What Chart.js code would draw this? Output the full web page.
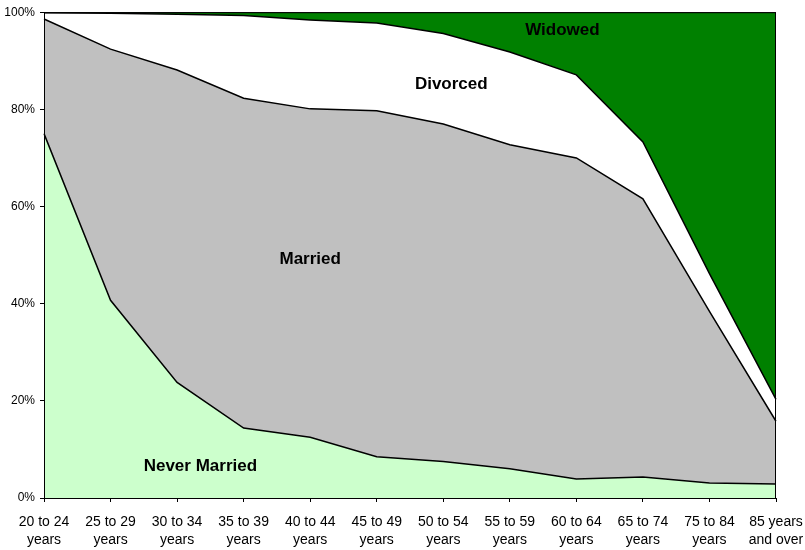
<!DOCTYPE html>
<html>
<head>
<meta charset="utf-8">
<script src="https://cdn.jsdelivr.net/npm/chart.js@4/dist/chart.umd.min.js"></script>
<style>
  html, body { margin: 0; padding: 0; background: #fff; }
  #wrap { width: 805px; height: 550px; }
</style>
</head>
<body>
<div id="wrap"><canvas id="chart" width="805" height="550"></canvas></div>
<script>
// age groups (two-line labels)
var categories = [
    ["20 to 24", "years"], ["25 to 29", "years"], ["30 to 34", "years"],
    ["35 to 39", "years"], ["40 to 44", "years"], ["45 to 49", "years"],
    ["50 to 54", "years"], ["55 to 59", "years"], ["60 to 64", "years"],
    ["65 to 74", "years"], ["75 to 84", "years"], ["85 years", "and over"]
];

// percent of each age group
var neverMarried = [75.0, 40.7, 23.8, 14.4, 12.5, 8.5, 7.5, 6.0, 3.9, 4.3, 3.1, 2.9];
var married      = [23.6, 51.7, 64.3, 67.9, 67.6, 71.2, 69.5, 66.7, 66.1, 57.3, 35.3, 12.9];
var divorced     = [1.3, 7.4, 11.5, 17.0, 18.3, 18.1, 18.6, 19.1, 17.1, 11.7, 7.8, 4.5];
var widowed      = [0.1, 0.2, 0.4, 0.7, 1.6, 2.2, 4.4, 8.2, 12.9, 26.7, 53.8, 79.7];

var yTicks = [0, 20, 40, 60, 80, 100];

// in-chart area names: [text, category position, percent]
var areaLabels = [
    ["Widowed", 7.79, 96.3],
    ["Divorced", 6.12, 85.2],
    ["Married", 4.0, 49.1],
    ["Never Married", 2.35, 6.6]
];

var areaLabelPlugin = {
    id: 'areaLabels',
    afterDatasetsDraw: function(chart) {
        var ctx = chart.ctx;
        var xs = chart.scales.x, ys = chart.scales.y;
        var a = chart.chartArea;
        ctx.save();
        // plot frame
        ctx.strokeStyle = "#000";
        ctx.lineWidth = 1;
        ctx.strokeRect(a.left + 0.5, a.top + 0.5, a.right - a.left - 1, a.bottom - a.top);
        ctx.fillStyle = "#000";
        ctx.font = "bold 17px 'Liberation Sans', Arial, sans-serif";
        ctx.textAlign = "center";
        ctx.textBaseline = "middle";
        areaLabels.forEach(function(l) {
            ctx.fillText(l[0], xs.getPixelForValue(l[1]), ys.getPixelForValue(l[2]));
        });
        ctx.restore();
    }
};

function series(label, data, color, fill) {
    return {
        label: label,
        data: data,
        backgroundColor: color,
        borderColor: "#000",
        borderWidth: 1.5,
        pointRadius: 0,
        tension: 0,
        fill: fill
    };
}

var ctx = document.getElementById("chart").getContext("2d");
new Chart(ctx, {
    type: 'line',
    data: {
        labels: categories,
        datasets: [
            series("Never Married", neverMarried, "#CCFFCC", 'origin'),
            series("Married", married, "#C0C0C0", '-1'),
            series("Divorced", divorced, "#FFFFFF", '-1'),
            series("Widowed", widowed, "#008000", '-1')
        ]
    },
    options: {
        responsive: false,
        animation: false,
        layout: { padding: { top: 11, right: 29, left: 0, bottom: 0 } },
        plugins: {
            legend: { display: false },
            tooltip: { enabled: false }
        },
        scales: {
            x: {
                offset: false,
                grid: { display: true, drawOnChartArea: false, tickLength: 4, color: "#000" },
                border: { color: "#000", width: 1 },
                ticks: {
                    autoSkip: false, maxRotation: 0, minRotation: 0, padding: 11,
                    color: "#000",
                    font: { family: "'Liberation Sans', Arial, sans-serif", size: 14, lineHeight: 1.28 }
                },
                afterFit: function(scale) {
                    scale.height = 52;
                    scale.paddingLeft = 0;
                    scale.paddingRight = 0;
                }
            },
            y: {
                stacked: true,
                min: 0,
                max: 100,
                grid: { display: true, drawOnChartArea: false, tickLength: 4, color: "#000" },
                border: { color: "#000", width: 1 },
                afterBuildTicks: function(scale) {
                    scale.ticks = yTicks.map(function(v) { return { value: v }; });
                },
                ticks: {
                    padding: 5,
                    color: "#000",
                    font: { family: "'Liberation Sans', Arial, sans-serif", size: 12 },
                    callback: function(v) { return v + "%"; }
                },
                afterFit: function(scale) { scale.width = 44; }
            }
        }
    },
    plugins: [areaLabelPlugin]
});
</script>
</body>
</html>
